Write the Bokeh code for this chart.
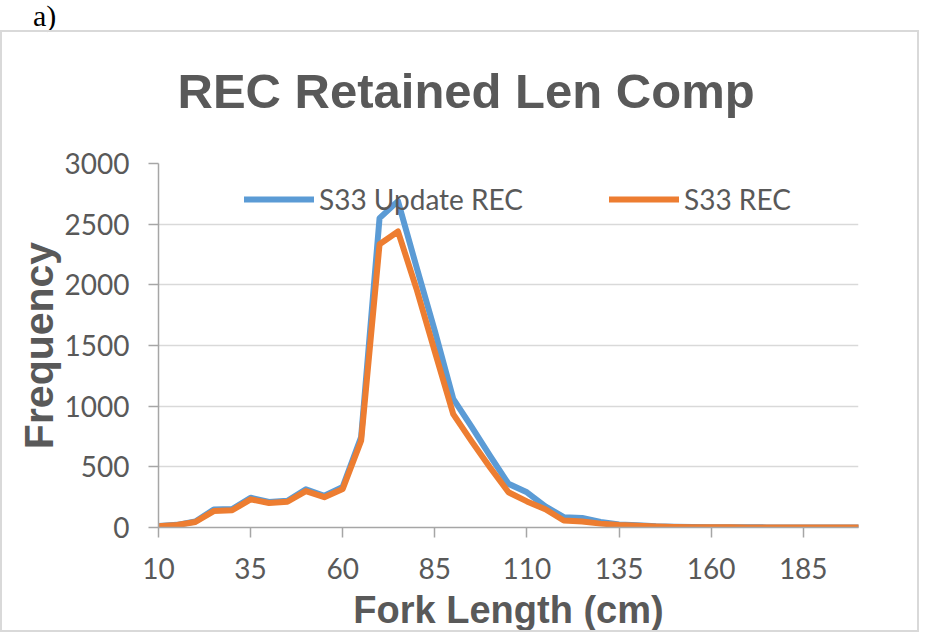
from bokeh.plotting import figure
from bokeh.models import FixedTicker, Range1d, Legend, LegendItem, Div, Title
from bokeh.layouts import column
from bokeh.embed import file_html
from bokeh.resources import INLINE

# ---- data ----
lengths = list(range(10, 201, 5))
s33_update_rec = [12, 22, 50, 148, 152, 245, 210, 220, 315, 262, 335, 745,
                  2550, 2690, 2150, 1620, 1060, 830, 590, 360, 290, 175, 85,
                  78, 45, 25, 18, 10, 6, 4, 3, 2, 2, 1, 1, 1, 1, 1, 1]
s33_rec = [10, 20, 45, 135, 142, 232, 202, 212, 300, 250, 318, 715,
           2335, 2440, 1970, 1450, 935, 710, 495, 290, 215, 150, 58,
           50, 32, 20, 14, 8, 5, 3, 2, 2, 1, 1, 1, 1, 1, 1, 1]
x_ticks = [10, 35, 60, 85, 110, 135, 160, 185]
y_ticks = [0, 500, 1000, 1500, 2000, 2500, 3000]
title_text = "REC Retained Len Comp"

TXT = "#595959"
AX = "#a6a6a6"

p = figure(width=919, height=602,
           x_range=Range1d(10, 200), y_range=Range1d(0, 3000),
           output_backend="svg", toolbar_location=None,
           min_border_left=156, min_border_right=63,
           min_border_top=131, min_border_bottom=107,
           styles={"border": "2px solid #d9d9d9", "box-sizing": "border-box"})

# spacer panel between frame and title (pushes the title upward)
spacer = Title(text=" ", text_font_size="10px", standoff=33,
               text_color="#ffffff")
p.add_layout(spacer, "above")
main_title = Title(text=title_text, align="left", offset=19, standoff=0,
                   text_font="Liberation Sans", text_font_style="bold",
                   text_font_size="49px", text_color=TXT)
p.add_layout(main_title, "above")

p.outline_line_color = None
p.xgrid.grid_line_color = None
p.ygrid.grid_line_color = "#d9d9d9"
p.ygrid.grid_line_width = 1.5

p.xaxis.ticker = FixedTicker(ticks=x_ticks)
p.yaxis.ticker = FixedTicker(ticks=y_ticks)
for ax in (p.xaxis, p.yaxis):
    ax.minor_tick_line_color = None
    ax.major_tick_in = 0
    ax.major_tick_out = 10
    ax.axis_line_color = AX
    ax.major_tick_line_color = AX
    ax.axis_line_width = 1.5
    ax.major_tick_line_width = 1.5
    ax.major_label_text_font = "Lato"
    ax.major_label_text_font_size = "28px"
    ax.major_label_text_color = TXT
    ax.axis_label_text_font = "Liberation Sans"
    ax.axis_label_text_font_style = "bold"
    ax.axis_label_text_color = TXT

p.xaxis.axis_label = "Fork Length (cm)"
p.xaxis.axis_label_text_font_size = "38px"
p.xaxis.major_label_standoff = 20
p.xaxis.axis_label_standoff = 7
p.yaxis.axis_label = "Frequency"
p.yaxis.axis_label_text_font_size = "41px"
p.yaxis.major_label_standoff = 19
p.yaxis.axis_label_standoff = 0

r1 = p.line(lengths, s33_update_rec, line_color="#5B9BD5", line_width=6,
            line_join="round", line_cap="round")
r2 = p.line(lengths, s33_rec, line_color="#ED7D31", line_width=6,
            line_join="round", line_cap="round")

legend = Legend(items=[LegendItem(label="S33 Update REC", renderers=[r1]),
                       LegendItem(label="S33 REC", renderers=[r2])],
                orientation="horizontal", location=(86, 311),
                background_fill_alpha=0, border_line_color=None,
                glyph_width=70, glyph_height=30,
                label_text_font="Lato", label_text_font_size="28px",
                label_text_color=TXT, spacing=86, padding=0, margin=0,
                label_standoff=5)
p.add_layout(legend)

div = Div(text="a)", width=919, height=20,
          styles={"font-family": "Liberation Serif", "font-size": "30px",
                  "line-height": "22px", "padding-left": "28px",
                  "color": "#000000"})

layout = column(div, p, spacing=0)
open("out.html", "w").write(file_html(layout, INLINE))
